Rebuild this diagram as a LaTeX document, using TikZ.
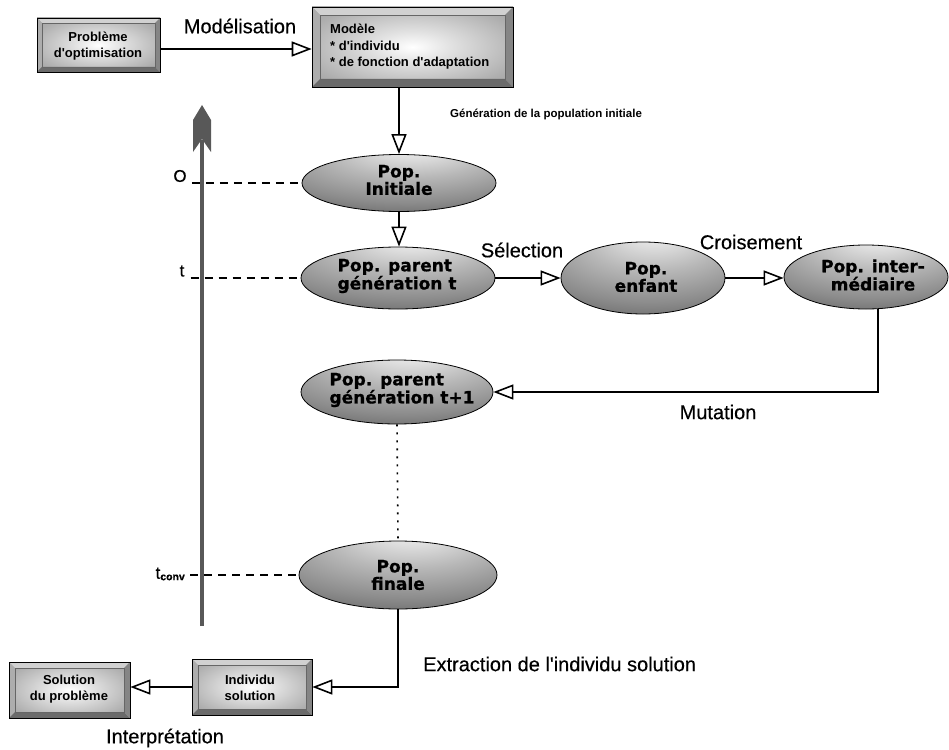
\documentclass[tikz,border=0pt]{standalone}
\usepackage{fontspec}
\setmainfont{Liberation Sans}
\newfontfamily\popfont{DejaVu Sans}[BoldFeatures={FakeBold=0.8}]
\newfontfamily\lblfont{Liberation Sans}[FakeBold=0.4]
\usetikzlibrary{shapes.geometric,arrows.meta,calc}
\definecolor{axgray}{RGB}{88,88,88}
\pgfdeclareradialshading{elshade}{\pgfpoint{4bp}{34bp}}{color(0bp)=(white); color(6bp)=(white!90!black); color(20bp)=(white!72!black); color(35bp)=(white!55!black); color(50bp)=(white!35!black); color(75bp)=(white!32!black)}
\pgfdeclareradialshading{boxshade}{\pgfpoint{0bp}{0bp}}{color(0bp)=(white); color(10bp)=(white!88!black); color(28bp)=(white!68!black); color(50bp)=(white!57!black); color(75bp)=(white!55!black)}
\newcommand{\drawbevel}[1]{%
  \path (path picture bounding box.north west) coordinate (bvnw)
        (path picture bounding box.north east) coordinate (bvne)
        (path picture bounding box.south west) coordinate (bvsw)
        (path picture bounding box.south east) coordinate (bvse);
  \fill[white!82!black] (bvnw) -- (bvne) -- ($(bvne)+(-#1,-#1)$) -- ($(bvnw)+(#1,-#1)$) -- cycle;
  \fill[white!68!black] (bvnw) -- (bvsw) -- ($(bvsw)+(#1,#1)$) -- ($(bvnw)+(#1,-#1)$) -- cycle;
  \fill[white!42!black] (bvsw) -- (bvse) -- ($(bvse)+(-#1,#1)$) -- ($(bvsw)+(#1,#1)$) -- cycle;
  \fill[white!52!black] (bvne) -- (bvse) -- ($(bvse)+(-#1,#1)$) -- ($(bvne)+(-#1,-#1)$) -- cycle;
  \draw[black!60, line width=0.4pt] ($(bvnw)+(#1,-#1)$) rectangle ($(bvse)+(-#1,#1)$);
}
\tikzset{
  popell/.style={ellipse, draw=black, line width=0.8pt, shade, shading=elshade, inner sep=0pt},
  poptext/.style={font=\popfont\bfseries\fontsize{17}{16}\selectfont, align=center, inner sep=0pt},
  bevbox/.style={rectangle, draw=black, line width=0.7pt, shade, shading=boxshade, inner sep=0pt, path picture={\drawbevel{#1}}},
  bevbox/.default=6pt,
  boxtext/.style={font=\bfseries\fontsize{13}{16}\selectfont, align=center, inner sep=0pt},
  lbl/.style={font=\lblfont\fontsize{20}{22}\selectfont, inner sep=0pt},
  smalllbl/.style={font=\bfseries\fontsize{11.5}{13}\selectfont, inner sep=0pt},
  axlbl/.style={font=\lblfont\fontsize{17}{18}\selectfont, inner sep=0pt},
  conn/.style={line width=1.6pt, -{Triangle[open,length=20pt,width=15pt]}},
  guide/.style={line width=1.3pt, dash pattern=on 8pt off 6pt},
  dotline/.style={line width=1.6pt, dash pattern=on 2pt off 6pt},
}
\begin{document}
\begin{tikzpicture}[x=1pt,y=-1pt]
\useasboundingbox (0,0) rectangle (949,749);

% boxes
\node[bevbox=5pt, minimum width=123pt, minimum height=54pt] (prob) at (98.5,45) {};
\node[boxtext] (probT) at (98,46) {Problème\\d\textquotesingle optimisation};
\node[bevbox=8pt, minimum width=201pt, minimum height=80pt] (mod) at (412.5,47) {};
\node[boxtext, align=left, anchor=west, font=\bfseries\fontsize{13}{16.5}\selectfont] (modT) at (330,47) {Modèle\\* d\textquotesingle individu\\* de fonction d\textquotesingle adaptation};
\node[bevbox=6pt, minimum width=120pt, minimum height=56pt] (indiv) at (252,687) {};
\node[boxtext] (indivT) at (250,688) {Individu\\solution};
\node[bevbox=6pt, minimum width=121pt, minimum height=56pt] (sol) at (69.5,690) {};
\node[boxtext] (solT) at (69,689) {Solution\\du problème};

% ellipses
\node[popell, minimum width=194pt, minimum height=57pt] (init) at (399,183) {};
\node[poptext] (initT) at (399,180) {Pop.\\Initiale};
\node[popell, minimum width=194pt, minimum height=62pt] (parent) at (398,278) {};
\node[poptext, align=left] (parentT) at (397,276) {Pop. parent\\génération t};
\node[popell, minimum width=164pt, minimum height=72pt] (enfant) at (643,278) {};
\node[poptext] (enfantT) at (646,277) {Pop.\\enfant};
\node[popell, minimum width=164pt, minimum height=64pt] (inter) at (866,277) {};
\node[poptext] (interT) at (873,275) {Pop. inter-\\médiaire};
\node[popell, minimum width=192pt, minimum height=64pt] (parent2) at (397,392) {};
\node[poptext, align=left] (parent2T) at (402,390) {Pop. parent\\génération t+1};
\node[popell, minimum width=198pt, minimum height=68pt] (finale) at (398,575) {};
\node[poptext] (finaleT) at (398,575) {Pop.\\finale};

% time axis labels and guides
\node[axlbl] (lO) at (180,176) {O};
\node[axlbl] (lt) at (182,271) {t};
\node[axlbl, anchor=east] (ltc) at (185,574) {t\raisebox{-1.5pt}{\bfseries\fontsize{10.5}{11}\selectfont conv}};
\draw[guide] ([xshift=5pt]lO.east |- init.west) -- (init.west);
\draw[guide] ([xshift=6pt]lt.east |- parent.west) -- (parent.west);
\draw[guide] ([xshift=5pt]ltc.east |- finale.west) -- (finale.west);

% time axis arrow
\coordinate (axbot) at (202,626);
\coordinate (axtop) at (202,140);
\draw[axgray, line width=4.5pt] (axbot) -- (axtop);
\fill[axgray] (202,105) -- (211,120) -- (211,152) -- (202,139) -- (193,152) -- (193,120) -- cycle;

% connectors
\draw[conn] ([yshift=-4pt]prob.east) -- ([yshift=-4pt]prob.east -| mod.west);
\draw[conn] (init.north |- mod.south) -- (init.north);
\draw[conn] (init.south) -- (init.south |- parent.north);
\draw[conn] (parent.east) -- (parent.east -| enfant.west);
\draw[conn] (enfant.east) -- (enfant.east -| inter.west);
\draw[conn] ([xshift=12pt]inter.south) -- ([xshift=12pt]inter.south |- parent2.east) -- (parent2.east);
\draw[dotline] (parent2.south) -- (finale.north);
\draw[conn] (finale.south) -- (finale.south |- indiv.east) -- (indiv.east);
\draw[conn] (indiv.west) -- (indiv.west -| sol.east);

% labels
\node[lbl] (lmod) at (240,26) {Modélisation};
\node[smalllbl, anchor=west] (lgen) at (450,114) {Génération de la population initiale};
\node[lbl] (lsel) at (522,250) {Sélection};
\node[lbl] (lcro) at (751,242) {Croisement};
\node[lbl] (lmut) at (718,412) {Mutation};
\node[lbl, anchor=west] (lext) at (423,664) {Extraction de l\textquotesingle individu solution};
\node[lbl] (lint) at (165,738) {Interprétation};
\end{tikzpicture}
\end{document}
